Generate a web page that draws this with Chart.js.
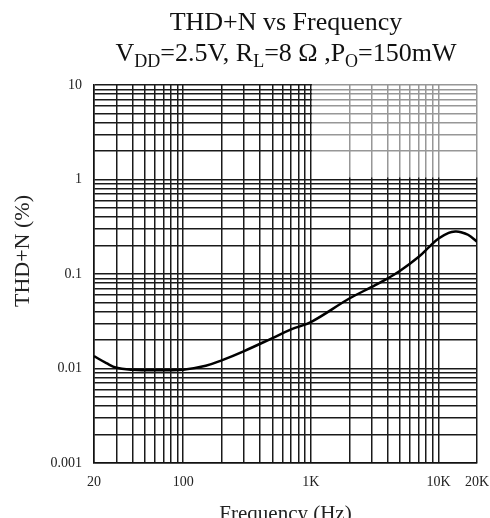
<!DOCTYPE html>
<html>
<head>
<meta charset="utf-8">
<script src="https://cdn.jsdelivr.net/npm/chart.js@4"></script>
<style>
  html, body { margin: 0; padding: 0; background: #fff; overflow: hidden; }
  #wrap { position: relative; width: 490px; height: 530px; }
  .ttl { position: absolute; left: 0; width: 572px; text-align: center;
         font-family: 'Liberation Serif', serif; color: #111; font-size: 26px; white-space: nowrap; line-height: 30px; }
  .ttl sub { font-size: 18px; vertical-align: -6px; line-height: 0; }
  #ylab { position: absolute; left: 22px; top: 251px; transform: translate(-50%, -50%) rotate(-90deg);
          font-family: 'Liberation Serif', serif; font-size: 22px; color: #222; white-space: nowrap; }
</style>
</head>
<body>
<div id="wrap">
  <canvas id="thd-chart" width="490" height="530"></canvas>
  <div class="ttl" style="top:7px">THD+N vs Frequency</div>
  <div class="ttl" style="top:38px">V<sub>DD</sub>=2.5V, R<sub>L</sub>=8 Ω ,P<sub>O</sub>=150mW</div>
  <div id="ylab">THD+N (%)</div>
</div>
<script>
var freq = [20, 25, 30, 40, 50, 70, 100, 150, 200, 300, 500, 700, 1000, 2000, 3000, 4000, 5000, 7000, 8500, 10000, 12000, 13500, 15000, 17000, 20000];
var thd = [0.0135, 0.0114, 0.0102, 0.0097, 0.0096, 0.0096, 0.0097, 0.0107, 0.0122, 0.0153, 0.021, 0.026, 0.031, 0.055, 0.073, 0.09, 0.108, 0.152, 0.195, 0.237, 0.272, 0.281, 0.277, 0.26, 0.22];

var xGrid = [20, 30, 40, 50, 60, 70, 80, 90, 100, 200, 300, 400, 500, 600, 700, 800, 900, 1000, 2000, 3000, 4000, 5000, 6000, 7000, 8000, 9000, 10000, 20000];
var xLabels = {20: '20', 100: '100', 1000: '1K', 10000: '10K', 20000: '20K'};
var yGrid = [0.001, 0.002, 0.003, 0.004, 0.005, 0.006, 0.007, 0.008, 0.009, 0.01, 0.02, 0.03, 0.04, 0.05, 0.06, 0.07, 0.08, 0.09, 0.1, 0.2, 0.3, 0.4, 0.5, 0.6, 0.7, 0.8, 0.9, 1, 2, 3, 4, 5, 6, 7, 8, 9, 10];
var yLabels = {0.001: '0.001', 0.01: '0.01', 0.1: '0.1', 1: '1', 10: '10'};

// faded grid in the upper right corner, like the scan
var fadeCorner = {
    id: 'fadeCorner',
    beforeDatasetsDraw: function(chart) {
        var x = chart.scales.x, y = chart.scales.y, ctx = chart.ctx;
        ctx.save();
        ctx.fillStyle = 'rgba(255,255,255,0.55)';
        ctx.fillRect(x.getPixelForValue(1000) + 1, y.getPixelForValue(10) - 1,
            x.getPixelForValue(20000) - x.getPixelForValue(1000) + 1, y.getPixelForValue(1) - y.getPixelForValue(10) - 1);
        ctx.restore();
    }
};

var tickFont = { family: 'Liberation Serif', size: 14 };
var ctx = document.getElementById('thd-chart').getContext('2d');
var thdChart = new Chart(ctx, {
    type: 'line',
    data: {
        datasets: [{
            data: freq.map(function(f, i) { return { x: f, y: thd[i] }; }),
            borderColor: '#000',
            borderWidth: 2.5,
            pointRadius: 0,
            tension: 0.4
        }]
    },
    options: {
        responsive: false,
        animation: false,
        layout: { padding: { left: 0, top: 85, right: 13, bottom: 0 } },
        plugins: { legend: { display: false }, tooltip: { enabled: false } },
        scales: {
            x: {
                type: 'logarithmic',
                min: 20,
                max: 20000,
                afterBuildTicks: function(s) { s.ticks = xGrid.map(function(v) { return { value: v }; }); },
                afterFit: function(s) { s.height = 67; s.paddingLeft = 0; s.paddingRight = 0; },
                ticks: {
                    autoSkip: false, maxRotation: 0, padding: 11, color: '#222', font: tickFont,
                    callback: function(v) { return xLabels[v] || ''; }
                },
                grid: { color: '#1a1a1a', lineWidth: 1.5, drawTicks: false },
                border: { color: '#111', width: 1.5 },
                title: {
                    display: true, text: 'Frequency (Hz)', color: '#222',
                    font: { family: 'Liberation Serif', size: 21 }, padding: { top: 0, bottom: 3 }
                }
            },
            y: {
                type: 'logarithmic',
                min: 0.001,
                max: 10,
                afterBuildTicks: function(s) { s.ticks = yGrid.map(function(v) { return { value: v }; }); },
                afterFit: function(s) { s.width = 94; },
                ticks: {
                    autoSkip: false, padding: 12, color: '#222', font: tickFont,
                    callback: function(v) { return yLabels[v] || ''; }
                },
                grid: { color: '#1a1a1a', lineWidth: 1.5, drawTicks: false },
                border: { color: '#111', width: 1.5 }
            }
        }
    },
    plugins: [fadeCorner]
});
</script>
</body>
</html>
